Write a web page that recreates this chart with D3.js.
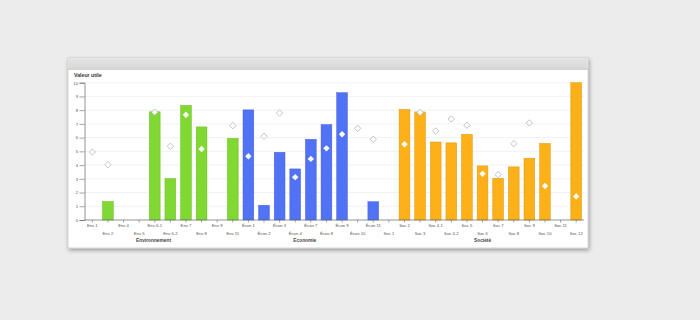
<!DOCTYPE html>
<html><head><meta charset="utf-8">
<script src="https://cdn.jsdelivr.net/npm/d3@7"></script>
<style>
html,body{margin:0;padding:0;background:#ececec;}
svg{display:block;font-family:"Liberation Sans",Arial,sans-serif;}
</style></head>
<body>
<svg id="chart" width="700" height="320"></svg>
<script>
const categories = ["Env 1","Env 2","Env 4","Env 5","Env 6-1","Env 6-2","Env 7","Env 8","Env 9","Env 11",
  "Écon 1","Écon 2","Écon 3","Écon 4","Écon 7","Écon 8","Écon 9","Écon 10","Écon 11",
  "Soc 1","Soc 2","Soc 3","Soc 4-1","Soc 4-2","Soc 5","Soc 6","Soc 7","Soc 8","Soc 9","Soc 10","Soc 11","Soc 12"];
const groupOf = ["Env","Env","Env","Env","Env","Env","Env","Env","Env","Env",
  "Econ","Econ","Econ","Econ","Econ","Econ","Econ","Econ","Econ",
  "Soc","Soc","Soc","Soc","Soc","Soc","Soc","Soc","Soc","Soc","Soc","Soc","Soc"];
const barValues = [null,1.35,null,null,7.88,3.02,8.35,6.78,null,5.95,
  8.02,1.07,4.93,3.72,5.88,6.95,9.27,null,1.33,
  null,8.06,7.87,5.68,5.62,6.24,3.94,3.04,3.87,4.5,5.58,null,10];
const diamondValues = [4.95,4.03,null,null,7.85,5.37,7.66,5.17,null,6.87,
  4.64,6.1,7.79,3.12,4.45,5.22,6.25,6.68,5.88,
  null,5.52,7.83,6.48,7.36,6.9,3.36,3.3,5.56,7.07,2.48,null,1.72];
const groups = [{key:"Env",label:"Environnement"},{key:"Econ",label:"Economie"},{key:"Soc",label:"Société"}];
const groupColors = {Env:"#80d832",Econ:"#5272f5",Soc:"#feb019"};
const yTicks = [0,1,2,3,4,5,6,7,8,9,10];
const title = "Valeur utile";

const svg = d3.select("#chart");
const defs = svg.append("defs");
const f = defs.append("filter").attr("id","sh").attr("x","-5%").attr("y","-5%").attr("width","112%").attr("height","120%");
f.append("feDropShadow").attr("dx",1).attr("dy",2).attr("stdDeviation",2).attr("flood-color","#000").attr("flood-opacity",0.35);
const hg = defs.append("linearGradient").attr("id","hg").attr("x1",0).attr("y1",0).attr("x2",0).attr("y2",1);
hg.append("stop").attr("offset","0%").attr("stop-color","#e4e4e4");
hg.append("stop").attr("offset","100%").attr("stop-color","#d6d6d6");

// card
const card = {x:68,y:58,w:520,h:190};
svg.append("rect").attr("x",card.x).attr("y",card.y).attr("width",card.w).attr("height",card.h)
  .attr("fill","#fff").attr("stroke","#c8c8c8").attr("stroke-width",0.8).attr("filter","url(#sh)");
svg.append("rect").attr("x",card.x+0.5).attr("y",card.y+0.5).attr("width",card.w-1).attr("height",11)
  .attr("fill","url(#hg)");
svg.append("line").attr("x1",card.x).attr("x2",card.x+card.w).attr("y1",card.y+11.5).attr("y2",card.y+11.5)
  .attr("stroke","#c4c4c4").attr("stroke-width",0.6);

svg.append("text").attr("x",74).attr("y",77).text(title)
  .attr("font-size",5.2).attr("font-weight","bold").attr("fill","#333");

const x = d3.scaleBand().domain(categories).range([84.5,584]).paddingInner(0.31).paddingOuter(0.155);
const y = d3.scaleLinear().domain([0,10]).range([220,82.7]);

// grid
svg.append("g").selectAll("line").data(yTicks.filter(d=>d>0)).join("line")
  .attr("x1",84.5).attr("x2",584).attr("y1",d=>y(d)).attr("y2",d=>y(d))
  .attr("stroke","#ececec").attr("stroke-width",0.7);

// bars
const data = categories.map((c,i)=>({c,g:groupOf[i],v:barValues[i],d:diamondValues[i]}));
svg.append("g").selectAll("rect").data(data.filter(d=>d.v!=null)).join("rect")
  .attr("x",d=>x(d.c)).attr("width",x.bandwidth())
  .attr("y",d=>y(d.v)).attr("height",d=>y(0)-y(d.v))
  .attr("fill",d=>groupColors[d.g])
  .attr("stroke",d=>d3.color(groupColors[d.g]).darker(0.4)).attr("stroke-width",0.5);

// y axis
const yAxis = d3.axisLeft(y).tickValues(yTicks).tickSize(5).tickPadding(1.5);
const ya = svg.append("g").attr("transform","translate(84.5,0)").call(yAxis);
ya.select(".domain").attr("stroke","#666").attr("stroke-width",0.7);
ya.selectAll(".tick line").attr("stroke","#666").attr("stroke-width",0.6);
ya.selectAll(".tick text").attr("font-size",4.2).attr("fill","#555").attr("font-family","Liberation Sans, Arial, sans-serif");

// x axis
const xAxis = d3.axisBottom(x).tickSize(2.5).tickPadding(2);
const xa = svg.append("g").attr("transform","translate(0,220)").call(xAxis);
xa.select(".domain").attr("stroke","#666").attr("stroke-width",0.7).attr("d","M84.5,0H584");
xa.selectAll(".tick line").attr("stroke","#666").attr("stroke-width",0.6);
xa.selectAll(".tick text").attr("font-size",4.2).attr("fill","#555")
  .attr("font-family","Liberation Sans, Arial, sans-serif")
  .attr("dy",(d,i)=> i%2===0 ? "0.71em" : "2.55em");

// group labels
groups.forEach(g=>{
  const cats = categories.filter((c,i)=>groupOf[i]===g.key);
  const cx = (x(cats[0]) + x(cats[cats.length-1]) + x.bandwidth())/2;
  svg.append("text").attr("x",cx - (g.key==="Env"?9:g.key==="Econ"?6:0)).attr("y",241.5).attr("text-anchor","middle")
    .attr("font-size",4.8).attr("font-weight","bold").attr("fill","#444").text(g.label);
});

// diamonds
const sym = d3.symbol().type(d3.symbolDiamond2).size(26);
svg.append("g").selectAll("path").data(data.filter(d=>d.d!=null)).join("path")
  .attr("transform",d=>`translate(${x(d.c)+x.bandwidth()/2},${y(d.d)})`)
  .attr("d",sym)
  .attr("fill","#fff")
  .attr("stroke",d=>(d.v!=null && d.v>=d.d+0.25) ? "none" : "#aaa")
  .attr("stroke-width",0.7);
</script>
</body></html>
